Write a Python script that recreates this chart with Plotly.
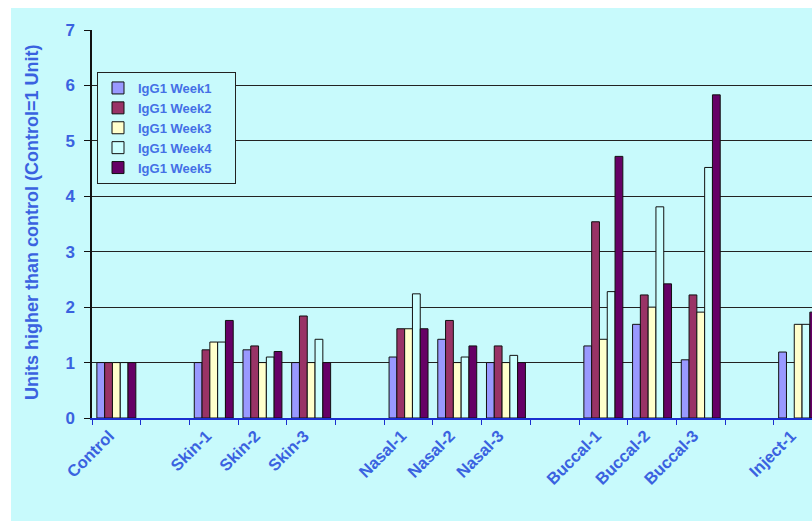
import plotly.graph_objects as go

categories = ["Control", " ", "Skin-1", "Skin-2", "Skin-3", "  ", "Nasal-1", "Nasal-2", "Nasal-3",
              "   ", "Buccal-1", "Buccal-2", "Buccal-3", "    ", "Inject-1"]

week1 = [1.0, None, 1.0, 1.23, 1.0, None, 1.10, 1.42, 1.0, None, 1.30, 1.69, 1.05, None, 1.19]
week2 = [1.0, None, 1.23, 1.30, 1.84, None, 1.61, 1.76, 1.30, None, 3.54, 2.22, 2.22, None, None]
week3 = [1.0, None, 1.37, 1.0, 1.0, None, 1.61, 1.0, 1.0, None, 1.42, 2.0, 1.91, None, 1.69]
week4 = [1.0, None, 1.37, 1.10, 1.42, None, 2.24, 1.10, 1.13, None, 2.28, 3.81, 4.52, None, 1.69]
week5 = [1.0, None, 1.76, 1.20, 1.0, None, 1.61, 1.30, 1.0, None, 4.72, 2.42, 5.83, None, 1.91]

series_names = ["IgG1 Week1", "IgG1 Week2", "IgG1 Week3", "IgG1 Week4", "IgG1 Week5"]
series_values = [week1, week2, week3, week4, week5]
colors = ["#9999FF", "#993366", "#FFFFCC", "#CCFFFF", "#660066"]

y_title = "Units higher than control (Control=1 Unit)"

FONT = "Liberation Sans, Arial, sans-serif"
BLUE = "#3a62e0"
PAD = "\u00a0" * 5

fig = go.Figure()
for name, vals, col in zip(series_names, series_values, colors):
    fig.add_trace(go.Bar(
        x=categories, y=vals, name=name + PAD,
        marker=dict(color=col, line=dict(color="#111111", width=1)),
    ))

W, H = 812, 522
L, R, T, B = 92, 0, 30, 104
pw, ph = W - L - R, H - T - B

def px_x(p):
    return (p - L) / pw

def px_y(p):
    return (H - B - p) / ph

fig.update_layout(
    width=W, height=H,
    margin=dict(l=L, r=R, t=T, b=B),
    barmode="group", bargap=0.2, bargroupgap=0,
    paper_bgcolor="white",
    plot_bgcolor="#fbf1df",
    showlegend=True,
    legend=dict(
        x=px_x(97), y=px_y(72), xanchor="left", yanchor="top",
        bgcolor="#c8fafc", bordercolor="#222222", borderwidth=1,
        font=dict(family=FONT, size=13, color="#4470e6", weight="bold"),
        tracegroupgap=0,
    ),
    xaxis=dict(
        type="category",
        range=[-0.5, -0.5 + pw / 48.7],
        tickson="boundaries",
        ticks="outside", ticklen=5, tickcolor="#1a2fd0", tickwidth=1,
        showline=True, linecolor="#1a2fd0", linewidth=1.5,
        tickangle=-45, ticklabelshift=-7,
        tickfont=dict(family=FONT, size=16.5, color=BLUE, weight="bold"),
        showgrid=False, zeroline=False,
    ),
    yaxis=dict(
        range=[0, 7], dtick=1,
        ticks="outside", ticklen=6, tickcolor="#111111",
        showline=True, linecolor="#111111", linewidth=1.5,
        showgrid=True, gridcolor="#222222", gridwidth=1,
        zeroline=False, ticklabelstandoff=6,
        tickfont=dict(family=FONT, size=17, color=BLUE, weight="bold"),
    ),
    shapes=[dict(
        type="rect", xref="paper", yref="paper", layer="below",
        x0=px_x(11), x1=1.2, y0=px_y(521), y1=px_y(8),
        fillcolor="#c8fafc", line=dict(width=0),
    )],
    annotations=[dict(
        text=y_title, xref="paper", yref="paper",
        x=px_x(32), y=px_y(223), xanchor="center", yanchor="middle",
        textangle=-90, showarrow=False,
        font=dict(family=FONT, size=18, color=BLUE, weight="bold"),
    )],
)

fig.write_html("out.html")
